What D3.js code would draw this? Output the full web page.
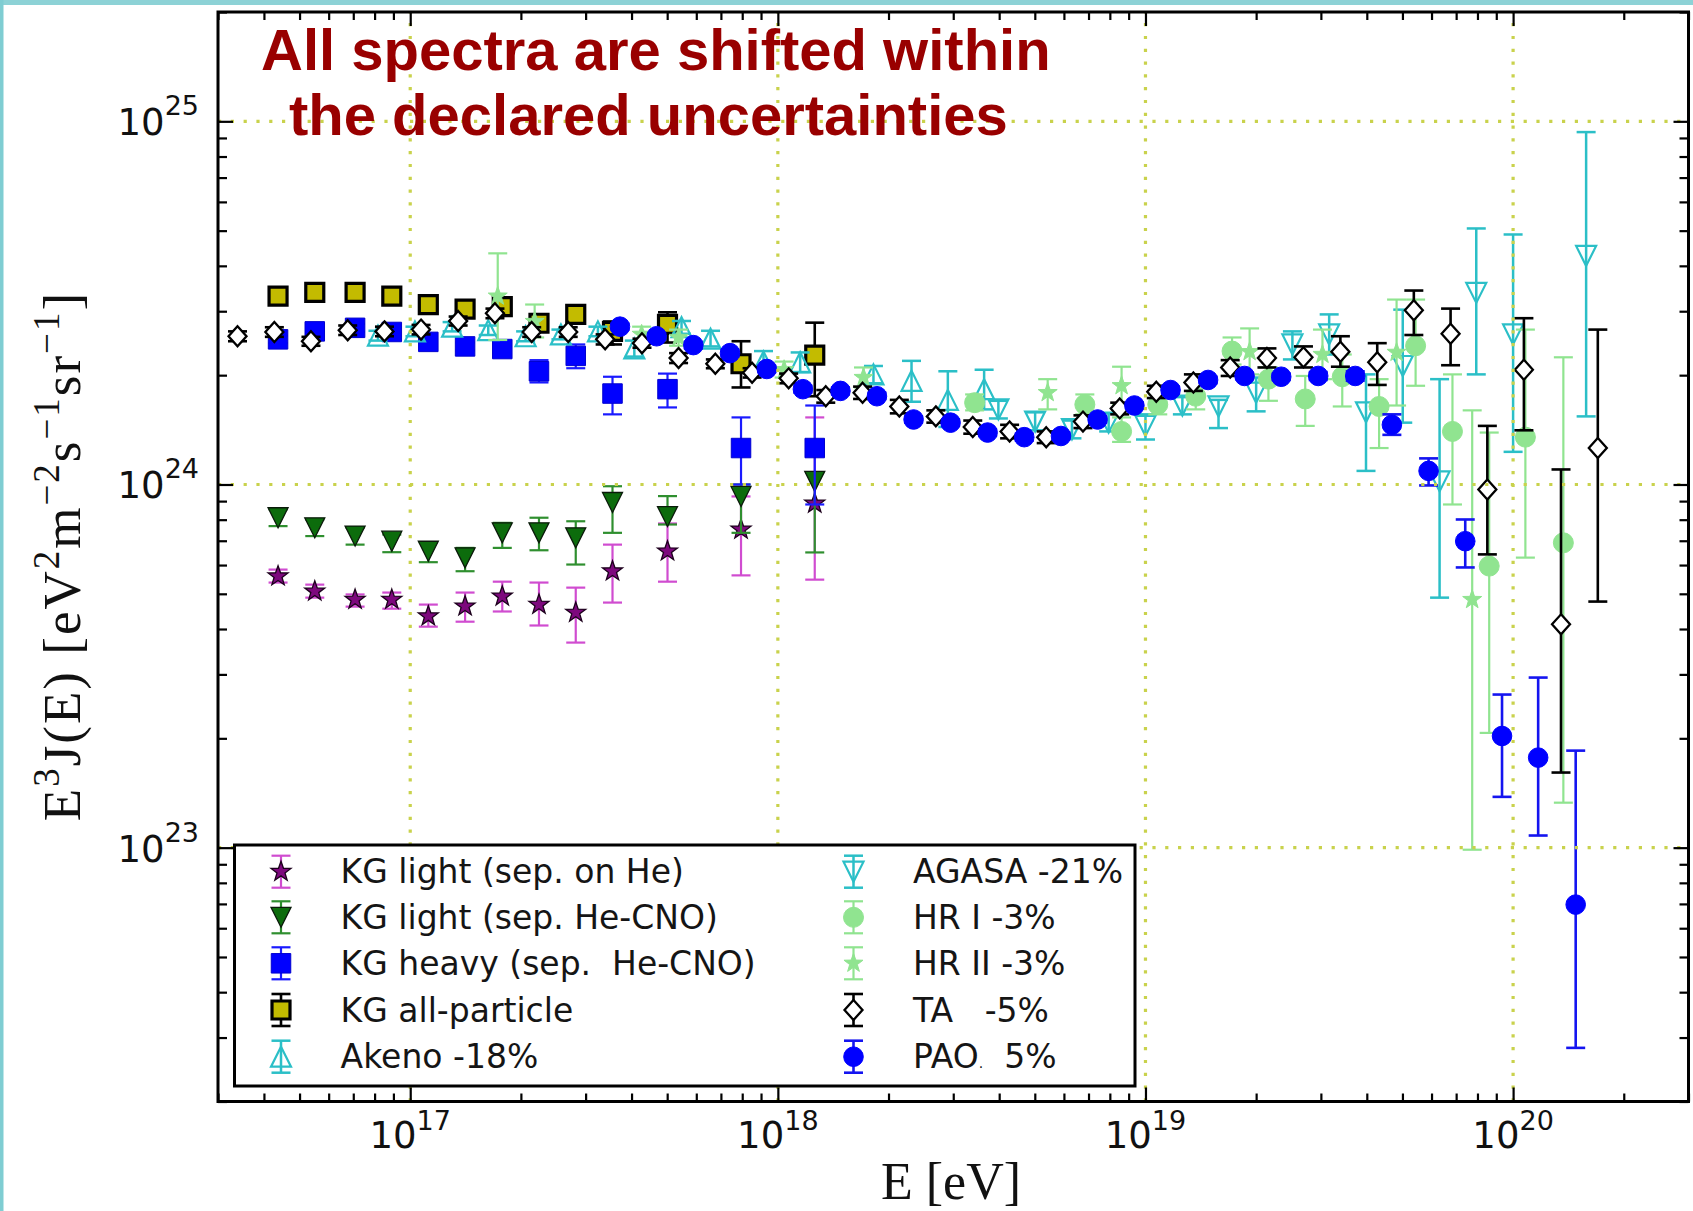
<!DOCTYPE html>
<html>
<head>
<meta charset="utf-8">
<script src="https://cdn.jsdelivr.net/npm/d3@7/dist/d3.min.js"></script>
<style>
html,body{margin:0;padding:0;background:#fff;overflow:hidden;}
svg{display:block;}
text{white-space:pre;}
</style>
</head>
<body>
<svg id="chart" width="1693" height="1211" xmlns="http://www.w3.org/2000/svg"></svg>
<script>
// ================= DATA =================
// KASCADE-Grande energy bins
const kgEnergy = [4.37e16, 5.50e16, 7.08e16, 8.91e16, 1.12e17, 1.41e17, 1.78e17, 2.24e17, 2.82e17, 3.55e17, 5.01e17, 7.94e17, 1.26e18];

const kgLightHeVal = [5.59e23, 5.08e23, 4.82e23, 4.82e23, 4.34e23, 4.62e23, 4.92e23, 4.67e23, 4.44e23, 5.77e23, 6.55e23, 7.52e23, 8.87e23];
const kgLightHeLo  = [5.37e23, 4.88e23, 4.61e23, 4.55e23, 4.06e23, 4.19e23, 4.47e23, 4.09e23, 3.67e23, 4.73e23, 5.40e23, 5.62e23, 5.47e23];
const kgLightHeHi  = [5.83e23, 5.30e23, 4.98e23, 5.04e23, 4.67e23, 5.04e23, 5.40e23, 5.37e23, 5.20e23, 6.83e23, 7.81e23, 9.27e23, 1.53e24];

const kgLightCnoVal = [8.10e23, 7.60e23, 7.21e23, 6.98e23, 6.55e23, 6.28e23, 7.36e23, 7.36e23, 7.13e23, 8.92e23, 8.16e23, 9.27e23, 1.02e24];
const kgLightCnoLo  = [7.68e23, 7.21e23, 6.83e23, 6.51e23, 6.11e23, 5.77e23, 6.69e23, 6.59e23, 6.02e23, 7.36e23, 7.76e23, 7.36e23, 6.50e23];
const kgLightCnoHi  = [8.54e23, 8.01e23, 7.60e23, 7.28e23, 6.93e23, 6.69e23, 7.84e23, 8.10e23, 7.92e23, 9.89e23, 9.29e23, 1.00e24, 1.08e24];

const kgHeavyVal = [2.51e24, 2.64e24, 2.70e24, 2.63e24, 2.47e24, 2.40e24, 2.36e24, 2.05e24, 2.26e24, 1.78e24, 1.83e24, 1.26e24, 1.26e24];
const kgHeavyLo  = [2.45e24, 2.57e24, 2.63e24, 2.56e24, 2.40e24, 2.34e24, 2.30e24, 1.91e24, 2.09e24, 1.56e24, 1.63e24, 1.00e24, 8.81e23];
const kgHeavyHi  = [2.57e24, 2.71e24, 2.77e24, 2.70e24, 2.53e24, 2.46e24, 2.42e24, 2.20e24, 2.43e24, 1.98e24, 2.02e24, 1.53e24, 1.65e24];

const kgAllVal = [3.30e24, 3.38e24, 3.38e24, 3.30e24, 3.13e24, 3.04e24, 3.09e24, 2.78e24, 2.94e24, 2.64e24, 2.76e24, 2.15e24, 2.27e24];
const kgAllLo  = [3.19e24, 3.28e24, 3.28e24, 3.19e24, 3.04e24, 2.94e24, 3.00e24, 2.69e24, 2.85e24, 2.43e24, 2.46e24, 1.85e24, 1.75e24];
const kgAllHi  = [3.40e24, 3.49e24, 3.49e24, 3.40e24, 3.23e24, 3.13e24, 3.19e24, 2.87e24, 3.03e24, 2.81e24, 2.98e24, 2.48e24, 2.79e24];

// Akeno -18%
const akenoEnergy = [8.17e16, 1.03e17, 1.30e17, 1.63e17, 2.06e17, 2.57e17, 3.24e17, 4.07e17, 5.47e17, 6.56e17, 9.14e17, 1.15e18, 1.82e18, 2.31e18, 2.90e18, 3.64e18];
const akenoVal = [2.57e24, 2.64e24, 2.72e24, 2.66e24, 2.56e24, 2.59e24, 2.64e24, 2.37e24, 2.71e24, 2.52e24, 2.18e24, 2.17e24, 2.01e24, 1.93e24, 1.71e24, 1.83e24];
const akenoLo  = [2.49e24, 2.56e24, 2.64e24, 2.58e24, 2.48e24, 2.51e24, 2.56e24, 2.25e24, 2.60e24, 2.40e24, 2.05e24, 2.04e24, 1.90e24, 1.69e24, 1.44e24, 1.61e24];
const akenoHi  = [2.65e24, 2.72e24, 2.80e24, 2.74e24, 2.64e24, 2.67e24, 2.72e24, 2.49e24, 2.82e24, 2.65e24, 2.33e24, 2.31e24, 2.12e24, 2.19e24, 2.05e24, 2.07e24];

// AGASA -21%
const agasaEnergy = [3.98e18, 5.01e18, 6.31e18, 7.94e18, 1.00e19, 1.26e19, 1.58e19, 2.00e19, 2.51e19, 3.16e19, 3.98e19, 5.01e19, 6.31e19, 7.94e19, 1.00e20, 1.58e20];
const agasaVal = [1.61e24, 1.49e24, 1.42e24, 1.48e24, 1.45e24, 1.65e24, 1.64e24, 1.79e24, 2.43e24, 2.59e24, 1.58e24, 2.12e24, 1.02e24, 3.37e24, 2.59e24, 4.26e24];
const agasaLo  = [1.52e24, 1.41e24, 1.34e24, 1.40e24, 1.33e24, 1.56e24, 1.43e24, 1.59e24, 2.21e24, 2.28e24, 1.09e24, 1.48e24, 4.88e23, 2.01e24, 1.23e24, 1.54e24];
const agasaHi  = [1.70e24, 1.58e24, 1.50e24, 1.57e24, 1.56e24, 1.74e24, 1.71e24, 1.97e24, 2.64e24, 2.94e24, 2.01e24, 3.03e24, 1.95e24, 5.07e24, 4.88e24, 9.34e24];

// HiRes I -3%
const hr1Energy = [3.43e18, 6.84e18, 8.61e18, 1.08e19, 1.37e19, 1.72e19, 2.16e19, 2.72e19, 3.43e19, 4.32e19, 5.43e19, 6.84e19, 8.61e19, 1.08e20, 1.37e20];
const hr1Val = [1.68e24, 1.66e24, 1.40e24, 1.66e24, 1.75e24, 2.33e24, 1.95e24, 1.72e24, 1.98e24, 1.64e24, 2.41e24, 1.40e24, 5.96e23, 1.35e24, 6.91e23];
const hr1Lo  = [1.60e24, 1.56e24, 1.31e24, 1.56e24, 1.61e24, 2.14e24, 1.70e24, 1.45e24, 1.64e24, 1.26e24, 1.87e24, 8.81e23, 2.07e23, 6.29e23, 1.33e23];
const hr1Hi  = [1.77e24, 1.77e24, 1.53e24, 1.77e24, 1.89e24, 2.54e24, 2.10e24, 1.99e24, 2.28e24, 1.95e24, 3.23e24, 2.01e24, 1.39e24, 2.67e24, 2.24e24];

// HiRes II -3%
const hr2Energy = [1.73e17, 2.18e17, 4.26e17, 5.37e17, 1.04e18, 1.71e18, 5.42e18, 8.61e18, 1.92e19, 3.03e19, 4.82e19, 7.74e19];
const hr2Val = [3.30e24, 2.81e24, 2.59e24, 2.54e24, 2.07e24, 1.97e24, 1.79e24, 1.87e24, 2.32e24, 2.28e24, 2.31e24, 4.82e23];
const hr2Lo  = [2.50e24, 2.54e24, 2.46e24, 2.41e24, 1.97e24, 1.85e24, 1.61e24, 1.66e24, 2.01e24, 1.95e24, 1.65e24, 9.87e22];
const hr2Hi  = [4.33e24, 3.13e24, 2.72e24, 2.67e24, 2.18e24, 2.10e24, 1.95e24, 2.11e24, 2.69e24, 2.67e24, 3.23e24, 1.60e24];

// Telescope Array -5%
const taEnergy = [3.39e16, 4.27e16, 5.37e16, 6.76e16, 8.51e16, 1.07e17, 1.35e17, 1.70e17, 2.14e17, 2.69e17, 3.39e17, 4.27e17, 5.37e17, 6.76e17, 8.51e17, 1.07e18, 1.35e18, 1.70e18, 2.14e18, 2.69e18, 3.39e18, 4.27e18, 5.37e18, 6.76e18, 8.51e18, 1.07e19, 1.35e19, 1.70e19, 2.14e19, 2.69e19, 3.39e19, 4.27e19, 5.37e19, 6.76e19, 8.51e19, 1.07e20, 1.35e20, 1.70e20];
const taVal = [2.56e24, 2.63e24, 2.48e24, 2.66e24, 2.64e24, 2.67e24, 2.82e24, 2.96e24, 2.63e24, 2.63e24, 2.51e24, 2.45e24, 2.23e24, 2.15e24, 2.03e24, 1.96e24, 1.75e24, 1.79e24, 1.64e24, 1.54e24, 1.44e24, 1.40e24, 1.35e24, 1.49e24, 1.62e24, 1.80e24, 1.91e24, 2.10e24, 2.23e24, 2.24e24, 2.32e24, 2.17e24, 3.02e24, 2.60e24, 9.69e23, 2.07e24, 4.12e23, 1.26e24];
const taLo  = [2.48e24, 2.55e24, 2.41e24, 2.58e24, 2.56e24, 2.59e24, 2.74e24, 2.87e24, 2.55e24, 2.55e24, 2.43e24, 2.38e24, 2.16e24, 2.09e24, 1.97e24, 1.90e24, 1.68e24, 1.72e24, 1.57e24, 1.48e24, 1.38e24, 1.34e24, 1.30e24, 1.43e24, 1.56e24, 1.73e24, 1.81e24, 1.99e24, 2.10e24, 2.10e24, 2.11e24, 1.88e24, 2.58e24, 2.13e24, 6.42e23, 1.41e24, 1.61e23, 4.76e23];
const taHi  = [2.64e24, 2.71e24, 2.55e24, 2.74e24, 2.72e24, 2.75e24, 2.90e24, 3.05e24, 2.71e24, 2.71e24, 2.59e24, 2.52e24, 2.30e24, 2.21e24, 2.09e24, 2.02e24, 1.82e24, 1.86e24, 1.71e24, 1.60e24, 1.50e24, 1.46e24, 1.40e24, 1.55e24, 1.68e24, 1.87e24, 2.01e24, 2.20e24, 2.37e24, 2.40e24, 2.56e24, 2.45e24, 3.42e24, 3.05e24, 1.45e24, 2.87e24, 1.10e24, 2.67e24];

// Pierre Auger Observatory +5%
const paoEnergy = [3.72e17, 4.68e17, 5.89e17, 7.41e17, 9.33e17, 1.17e18, 1.48e18, 1.86e18, 2.34e18, 2.95e18, 3.72e18, 4.68e18, 5.89e18, 7.41e18, 9.33e18, 1.17e19, 1.48e19, 1.86e19, 2.34e19, 2.95e19, 3.72e19, 4.68e19, 5.89e19, 7.41e19, 9.33e19, 1.17e20, 1.48e20];
const paoVal = [2.72e24, 2.56e24, 2.42e24, 2.30e24, 2.08e24, 1.83e24, 1.81e24, 1.75e24, 1.51e24, 1.48e24, 1.39e24, 1.35e24, 1.36e24, 1.51e24, 1.65e24, 1.82e24, 1.94e24, 1.99e24, 1.98e24, 1.99e24, 1.99e24, 1.46e24, 1.09e24, 6.98e23, 2.03e23, 1.77e23, 6.97e22];
const paoLo  = [2.67e24, 2.51e24, 2.37e24, 2.25e24, 2.04e24, 1.79e24, 1.77e24, 1.72e24, 1.48e24, 1.45e24, 1.36e24, 1.32e24, 1.33e24, 1.48e24, 1.62e24, 1.78e24, 1.90e24, 1.95e24, 1.94e24, 1.94e24, 1.93e24, 1.37e24, 9.94e23, 5.91e23, 1.38e23, 1.08e23, 2.81e22];
const paoHi  = [2.77e24, 2.61e24, 2.47e24, 2.35e24, 2.12e24, 1.87e24, 1.85e24, 1.79e24, 1.54e24, 1.51e24, 1.42e24, 1.38e24, 1.39e24, 1.54e24, 1.68e24, 1.86e24, 1.98e24, 2.03e24, 2.02e24, 2.04e24, 2.05e24, 1.56e24, 1.18e24, 8.01e23, 2.64e23, 2.94e23, 1.85e23];

// Axis ticks and labels
const xMajorTicks = [1e17, 1e18, 1e19, 1e20];
const xTickExponents = ["17", "18", "19", "20"];
const yMajorTicks = [1e23, 1e24, 1e25];
const yTickExponents = ["23", "24", "25"];

const titleLines = ["All spectra are shifted within", "the declared uncertainties"];
const legendLabels = [
  "KG light (sep. on He)", "KG light (sep. He-CNO)", "KG heavy (sep.  He-CNO)", "KG all-particle", "Akeno -18%",
  "AGASA -21%", "HR I -3%", "HR II -3%", "TA   -5%", "PAO"
];

// ================= DRAWING =================
const W = 1693, H = 1211;
const svg = d3.select('#chart');
svg.append('rect').attr('width', W).attr('height', H).attr('fill', '#fff');

// slide frame strips
svg.append('rect').attr('x', 0).attr('y', 0).attr('width', W).attr('height', 5).attr('fill', '#8dd2d6');
svg.append('rect').attr('x', 0).attr('y', 0).attr('width', 3.5).attr('height', H).attr('fill', '#7fcdd2');

const x = d3.scaleLog().domain([3e16, 3e20]).range([218, 1688.5]);
const y = d3.scaleLog().domain([2e22, 2e25]).range([1101.5, 12]);

function markerPath(type, s) {
  switch (type) {
    case 'star': {
      const pts = [];
      for (let k = 0; k < 10; k++) {
        const r = k % 2 ? s * 0.40 : s;
        const a = -Math.PI / 2 + k * Math.PI / 5;
        pts.push([(r * Math.cos(a)).toFixed(2), (r * Math.sin(a)).toFixed(2)]);
      }
      return 'M' + pts.map(p => p.join(',')).join('L') + 'Z';
    }
    case 'tridown': return `M0,${s / 2}L${-s / 2},${-s / 2}L${s / 2},${-s / 2}Z`;
    case 'triup': return `M0,${-s / 2}L${s / 2},${s / 2}L${-s / 2},${s / 2}Z`;
    case 'square': return `M${-s / 2},${-s / 2}h${s}v${s}h${-s}Z`;
    case 'diamond': return `M0,${-s}L${s * 0.9},0L0,${s}L${-s * 0.9},0Z`;
    case 'circle': return d3.symbol(d3.symbolCircle, Math.PI * s * s)();
  }
}

const series = [
  { E: kgEnergy, v: kgLightHeVal, lo: kgLightHeLo, hi: kgLightHeHi, marker: 'star', size: 10.5, fill: '#7d087d', stroke: '#1c001c', sw: 1.3, ec: '#d04cd0', elw: 2.2 },
  { E: kgEnergy, v: kgLightCnoVal, lo: kgLightCnoLo, hi: kgLightCnoHi, marker: 'tridown', size: 20, fill: '#0c6c0c', stroke: '#0a1a0a', sw: 1.3, ec: '#2f8f2f', elw: 2.2 },
  { E: kgEnergy, v: kgHeavyVal, lo: kgHeavyLo, hi: kgHeavyHi, marker: 'square', size: 19.5, fill: '#0000ff', stroke: '#0000d0', sw: 1, ec: '#1a1aff', elw: 2.2 },
  { E: kgEnergy, v: kgAllVal, lo: kgAllLo, hi: kgAllHi, marker: 'square', size: 18, fill: '#c3bb00', stroke: '#000', sw: 3.2, ec: '#000', elw: 2.6 },
  { E: akenoEnergy, v: akenoVal, lo: akenoLo, hi: akenoHi, marker: 'triup', size: 20, fill: 'none', stroke: '#2bbfc7', sw: 2.2, ec: '#2bbfc7', elw: 2.5 },
  { E: agasaEnergy, v: agasaVal, lo: agasaLo, hi: agasaHi, marker: 'tridown', size: 20, fill: 'none', stroke: '#2bbfc7', sw: 2.2, ec: '#2bbfc7', elw: 2.5 },
  { E: hr1Energy, v: hr1Val, lo: hr1Lo, hi: hr1Hi, marker: 'circle', size: 10, fill: '#90e490', stroke: '#90e490', sw: 1, ec: '#90e490', elw: 2.2 },
  { E: hr2Energy, v: hr2Val, lo: hr2Lo, hi: hr2Hi, marker: 'star', size: 10, fill: '#90e490', stroke: '#90e490', sw: 1, ec: '#90e490', elw: 2.2 },
  { E: taEnergy, v: taVal, lo: taLo, hi: taHi, marker: 'diamond', size: 10, fill: '#fff', stroke: '#000', sw: 2.3, ec: '#000', elw: 2.6 },
  { E: paoEnergy, v: paoVal, lo: paoLo, hi: paoHi, marker: 'circle', size: 9.8, fill: '#0000ff', stroke: '#0000ff', sw: 1, ec: '#1414f0', elw: 2.6 }
];
const CAP = 9.5;

const gData = svg.append('g').attr('class', 'data');
series.forEach((s, si) => {
  const pts = s.E.map((e, i) => ({ e, v: s.v[i], lo: s.lo[i], hi: s.hi[i] }));
  const g = gData.append('g').attr('class', 'series-' + si);
  g.selectAll('line.bar').data(pts).join('line').attr('class', 'bar')
    .attr('x1', d => x(d.e)).attr('x2', d => x(d.e))
    .attr('y1', d => y(d.lo)).attr('y2', d => y(d.hi))
    .attr('stroke', s.ec).attr('stroke-width', s.elw);
  ['lo', 'hi'].forEach(k => {
    g.selectAll('line.cap-' + k).data(pts).join('line').attr('class', 'cap-' + k)
      .attr('x1', d => x(d.e) - CAP).attr('x2', d => x(d.e) + CAP)
      .attr('y1', d => y(d[k])).attr('y2', d => y(d[k]))
      .attr('stroke', s.ec).attr('stroke-width', s.elw);
  });
  g.selectAll('path.mk').data(pts).join('path').attr('class', 'mk')
    .attr('transform', d => `translate(${x(d.e)},${y(d.v)})`)
    .attr('d', markerPath(s.marker, s.size))
    .attr('fill', s.fill).attr('stroke', s.stroke).attr('stroke-width', s.sw)
    .attr('stroke-linejoin', 'miter');
});

// grid (dotted, drawn above data like classic matplotlib)
const [xl, xr] = x.range();
const [yb, yt] = y.range();
const gGrid = svg.append('g').attr('class', 'grid')
  .attr('stroke', '#c9d24c').attr('stroke-width', 3.2).attr('stroke-dasharray', '3.2 9.6');
gGrid.selectAll('line.gx').data(xMajorTicks).join('line').attr('class', 'gx')
  .attr('x1', d => x(d)).attr('x2', d => x(d)).attr('y1', yb).attr('y2', yt);
gGrid.selectAll('line.gy').data(yMajorTicks).join('line').attr('class', 'gy')
  .attr('x1', xl).attr('x2', xr).attr('y1', d => y(d)).attr('y2', d => y(d));

// ticks on all four sides, pointing inward
const xMinor = x.ticks().filter(t => !xMajorTicks.some(m => Math.abs(m - t) / m < 1e-6));
const yMinor = y.ticks().filter(t => !yMajorTicks.some(m => Math.abs(m - t) / m < 1e-6));
function tickAxis(axisFn, scale, vals, len, tr) {
  const g = svg.append('g').attr('transform', tr)
    .call(axisFn(scale).tickValues(vals).tickSize(-len).tickFormat(''));
  g.select('.domain').remove();
  g.selectAll('line').attr('stroke', '#000').attr('stroke-width', 2.2);
}
tickAxis(d3.axisBottom, x, xMajorTicks, 14, `translate(0,${yb})`);
tickAxis(d3.axisBottom, x, xMinor, 8, `translate(0,${yb})`);
tickAxis(d3.axisTop, x, xMajorTicks, 14, `translate(0,${yt})`);
tickAxis(d3.axisTop, x, xMinor, 8, `translate(0,${yt})`);
tickAxis(d3.axisLeft, y, yMajorTicks, 15, `translate(${xl},0)`);
tickAxis(d3.axisLeft, y, yMinor, 9, `translate(${xl},0)`);
tickAxis(d3.axisRight, y, yMajorTicks, 15, `translate(${xr},0)`);
tickAxis(d3.axisRight, y, yMinor, 9, `translate(${xr},0)`);

// frame
svg.append('rect').attr('x', xl).attr('y', yt).attr('width', xr - xl).attr('height', yb - yt)
  .attr('fill', 'none').attr('stroke', '#000').attr('stroke-width', 3);

// tick labels
const tickFont = "'DejaVu Sans', Verdana, sans-serif";
xMajorTicks.forEach((t, i) => {
  const tx = svg.append('text').attr('x', x(t)).attr('y', 1148).attr('text-anchor', 'middle')
    .attr('font-family', tickFont).attr('font-size', 37).attr('fill', '#111');
  tx.append('tspan').text('10');
  tx.append('tspan').attr('dy', -18).attr('font-size', 27).text(xTickExponents[i]);
});
yMajorTicks.forEach((t, i) => {
  const tx = svg.append('text').attr('x', 199).attr('y', y(t) + 14).attr('text-anchor', 'end')
    .attr('font-family', tickFont).attr('font-size', 37).attr('fill', '#111');
  tx.append('tspan').text('10');
  tx.append('tspan').attr('dy', -20).attr('font-size', 27).text(yTickExponents[i]);
});

// axis labels (serif, math style)
const serif = "'Liberation Serif', 'Times New Roman', serif";
const ylab = svg.append('text').attr('transform', 'translate(80,556) rotate(-90)')
  .attr('text-anchor', 'middle').attr('font-family', serif).attr('font-size', 53)
  .attr('letter-spacing', 2).attr('fill', '#111');
const ylParts = [['E', 0], ['3', 1], ['J(E) [eV', 0], ['2', 1], ['m', 0], ['\u22122', 1], ['s', 0], ['\u22121', 1], ['sr', 0], ['\u22121', 1], [']', 0]];
let up = false;
ylParts.forEach(([t, sup]) => {
  const ts = ylab.append('tspan').text(t);
  if (sup && !up) { ts.attr('dy', -21).attr('font-size', 37); up = true; }
  else if (sup) { ts.attr('font-size', 37); }
  else if (!sup && up) { ts.attr('dy', 21); up = false; }
});
svg.append('text').attr('x', 951).attr('y', 1199).attr('text-anchor', 'middle')
  .attr('font-family', serif).attr('font-size', 52).attr('fill', '#111').text('E [eV]');

// legend
const legX = 234.5, legY = 845, legW = 900.5, legH = 241;
const gLeg = svg.append('g').attr('class', 'legend');
gLeg.append('rect').attr('x', legX).attr('y', legY).attr('width', legW).attr('height', legH)
  .attr('fill', '#fff').attr('stroke', '#000').attr('stroke-width', 3);
const rowY = [871.7, 917.3, 963.3, 1010, 1056.7];
series.forEach((s, i) => {
  const col = i < 5 ? 0 : 1;
  const r = i % 5;
  const mx = col ? 853.5 : 281;
  const tx = col ? 913 : 340.6;
  const cy = rowY[r];
  const g = gLeg.append('g');
  g.append('line').attr('x1', mx).attr('x2', mx).attr('y1', cy - 16).attr('y2', cy + 16)
    .attr('stroke', s.ec).attr('stroke-width', s.elw);
  [cy - 16, cy + 16].forEach(yy => g.append('line').attr('x1', mx - 9.5).attr('x2', mx + 9.5)
    .attr('y1', yy).attr('y2', yy).attr('stroke', s.ec).attr('stroke-width', s.elw));
  g.append('path').attr('transform', `translate(${mx},${cy})`).attr('d', markerPath(s.marker, s.size))
    .attr('fill', s.fill).attr('stroke', s.stroke).attr('stroke-width', s.sw);
  const t = g.append('text').attr('x', tx).attr('y', cy + 11.5).attr('xml:space', 'preserve')
    .attr('font-family', tickFont).attr('font-size', 33).attr('fill', '#151515').text(legendLabels[i]);
  if (i === 9) {
    t.append('tspan').attr('font-size', 14).text('.');
    t.append('tspan').text('  5%');
  }
});

// title
const gTitle = svg.append('g').attr('font-family', "'Liberation Sans', Arial, sans-serif")
  .attr('font-weight', 'bold').attr('font-size', 58).attr('fill', '#990000');
gTitle.append('text').attr('x', 261).attr('y', 70).text(titleLines[0]);
gTitle.append('text').attr('x', 289).attr('y', 135).text(titleLines[1]);
</script>
</body>
</html>
